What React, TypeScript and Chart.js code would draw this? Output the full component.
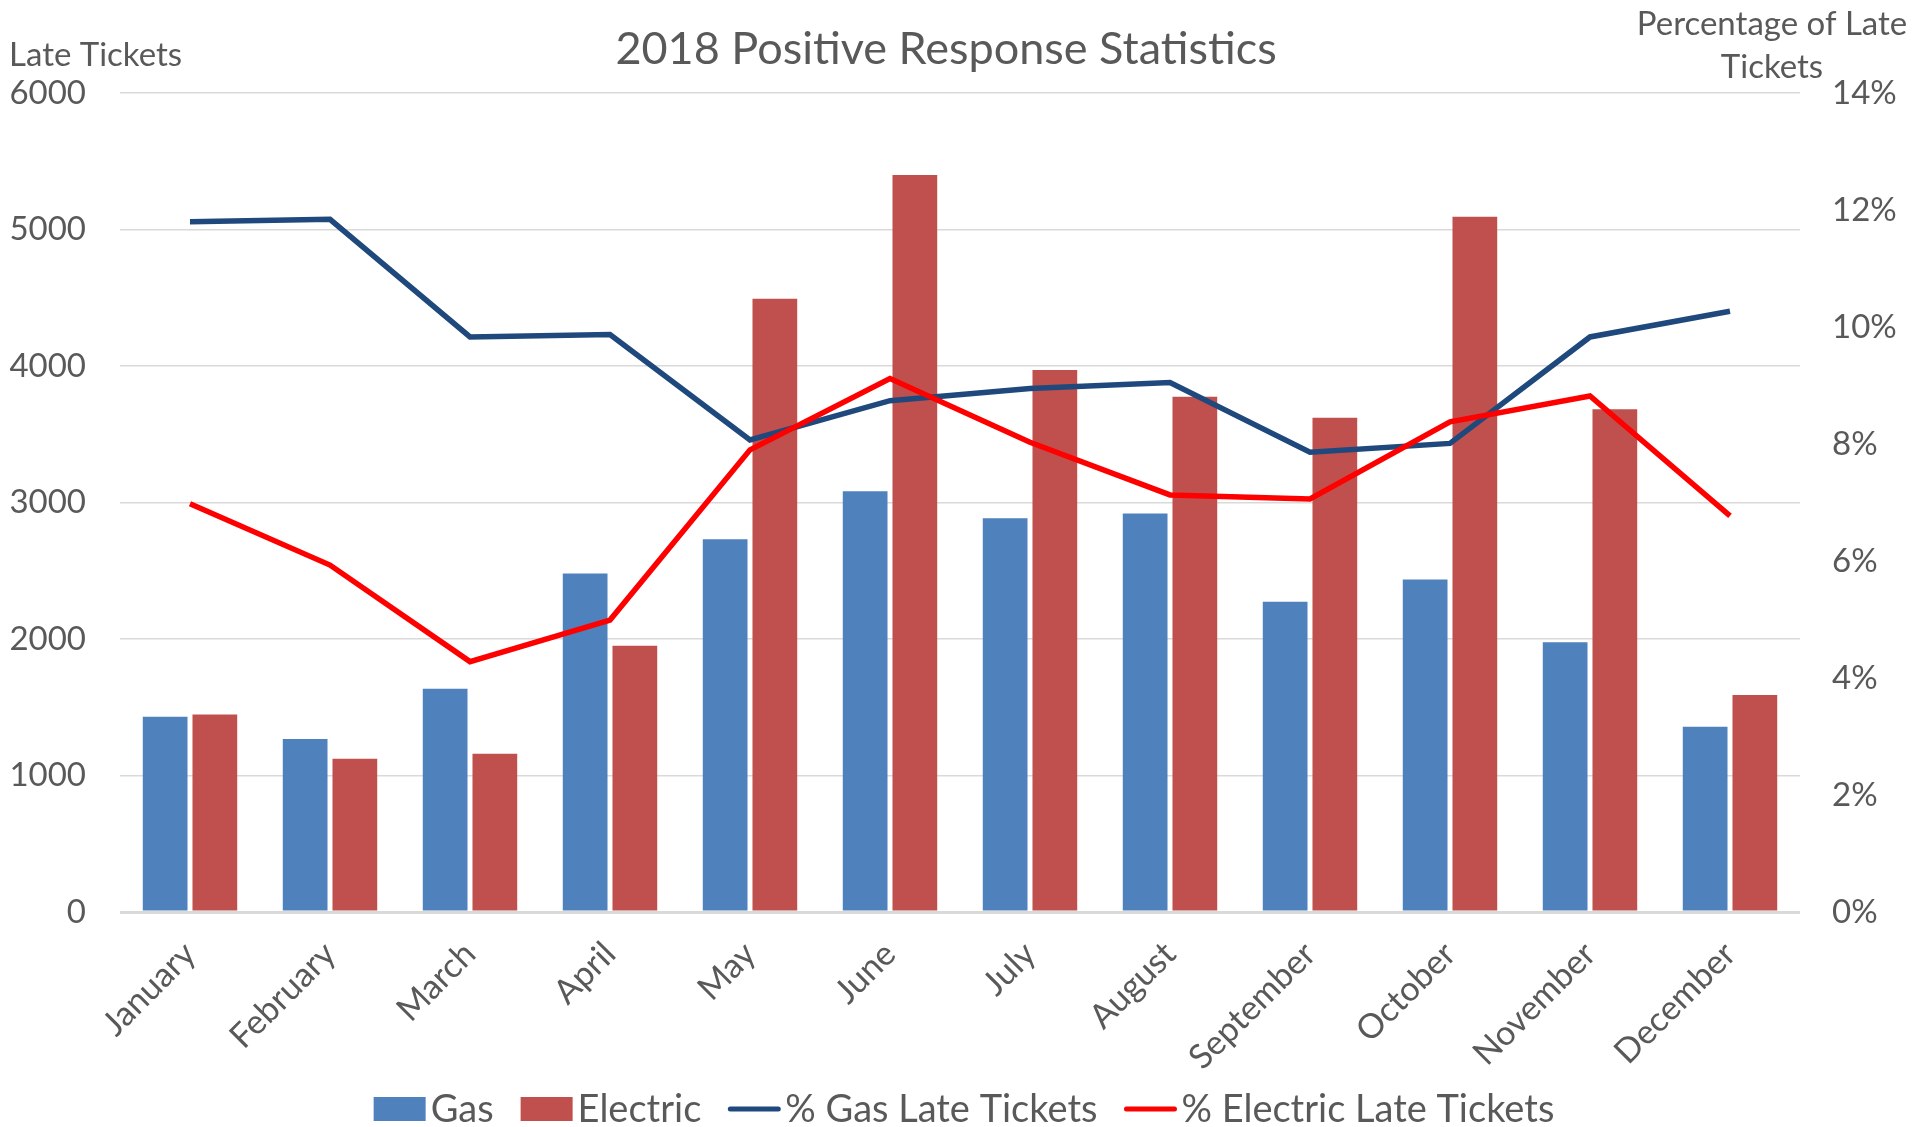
import React, { useEffect, useRef } from "react";
import { Chart, registerables } from "chart.js";

Chart.register(...registerables);

const categories = [
  "January", "February", "March", "April", "May", "June",
  "July", "August", "September", "October", "November", "December",
];
const gasValues = [1430, 1267, 1635, 2480, 2731, 3082, 2884, 2920, 2273, 2435, 1977, 1357];
const electricValues = [1447, 1123, 1159, 1950, 4492, 5400, 3971, 3774, 3621, 5094, 3684, 1590];
const gasPct = [11.8, 11.84, 9.83, 9.87, 8.07, 8.74, 8.95, 9.05, 7.86, 8.01, 9.83, 10.27];
const electricPct = [6.98, 5.93, 4.28, 4.99, 7.9, 9.12, 8.03, 7.13, 7.06, 8.38, 8.82, 6.77];
const leftTicksMax = 6000;
const leftStep = 1000;
const rightTicksMax = 14;
const rightStep = 2;

const TITLE = "2018 Positive Response Statistics";
const LEFT_TITLE = "Late Tickets";
const RIGHT_TITLE = ["Percentage of Late", "Tickets"];

const TEXT = "#595959";
const FONT = "Lato";

const textPlugin = {
  id: "customText",
  afterDraw(chart: any) {
    const ctx = chart.ctx;
    ctx.save();
    ctx.fillStyle = TEXT;
    ctx.textBaseline = "middle";
    // title
    ctx.font = `45px ${FONT}`;
    ctx.textAlign = "center";
    ctx.fillText(TITLE, 946, 49);
    // left axis title
    ctx.font = `33px ${FONT}`;
    ctx.textAlign = "left";
    ctx.fillText(LEFT_TITLE, 9, 55);
    // right axis title
    ctx.textAlign = "center";
    ctx.fillText(RIGHT_TITLE[0], 1772, 24);
    ctx.fillText(RIGHT_TITLE[1], 1772, 67);

    // legend
    const ds = chart.data.datasets;
    const symW = 52;
    const symGap = 5;
    const itemGap = 27;
    ctx.font = `38px ${FONT}`;
    const widths = ds.map((d: any) => ctx.measureText(d.label).width);
    let total = 0;
    widths.forEach((w: number, i: number) => {
      total += symW + symGap + w + (i < widths.length - 1 ? itemGap : 0);
    });
    let x = 964 - total / 2;
    const yc = 1109;
    ds.forEach((d: any, i: number) => {
      if (d.type === "line") {
        ctx.strokeStyle = d.borderColor;
        ctx.lineWidth = 5;
        ctx.lineCap = "round";
        ctx.beginPath();
        ctx.moveTo(x + 2, yc);
        ctx.lineTo(x + symW - 2, yc);
        ctx.stroke();
      } else {
        ctx.fillStyle = d.backgroundColor;
        ctx.fillRect(x, yc - 12, symW, 24);
      }
      ctx.fillStyle = TEXT;
      ctx.textAlign = "left";
      ctx.fillText(d.label, x + symW + symGap, yc + 1);
      x += symW + symGap + widths[i] + itemGap;
    });
    ctx.restore();
  },
};

export default function App() {
  const ref = useRef<HTMLCanvasElement | null>(null);

  useEffect(() => {
    if (!ref.current) return;
    const chart = new Chart(ref.current, {
      type: "bar",
      data: {
        labels: categories,
        datasets: [
          {
            type: "bar",
            label: "Gas",
            data: gasValues,
            backgroundColor: "#4F81BD",
            yAxisID: "y",
            order: 2,
            categoryPercentage: 0.71,
            barPercentage: 0.9,
          } as any,
          {
            type: "bar",
            label: "Electric",
            data: electricValues,
            backgroundColor: "#C0504D",
            yAxisID: "y",
            order: 2,
            categoryPercentage: 0.71,
            barPercentage: 0.9,
          } as any,
          {
            type: "line",
            label: "% Gas Late Tickets",
            data: gasPct,
            borderColor: "#1F497D",
            backgroundColor: "#1F497D",
            borderWidth: 5.5,
            pointRadius: 0,
            tension: 0,
            yAxisID: "y1",
            order: 1,
          } as any,
          {
            type: "line",
            label: "% Electric Late Tickets",
            data: electricPct,
            borderColor: "#FF0000",
            backgroundColor: "#FF0000",
            borderWidth: 5.5,
            pointRadius: 0,
            tension: 0,
            yAxisID: "y1",
            order: 0,
          } as any,
        ],
      },
      options: {
        responsive: false,
        animation: false,
        layout: { padding: { top: 93, left: 0, right: 0, bottom: 0 } },
        plugins: {
          legend: { display: false },
          title: { display: false },
          tooltip: { enabled: false },
        },
        scales: {
          x: {
            grid: { display: false, drawTicks: false },
            border: { display: false },
            ticks: {
              color: TEXT,
              font: { family: FONT, size: 34 },
              minRotation: 45,
              maxRotation: 45,
              autoSkip: false,
              padding: 22,
            },
            afterFit(scale: any) {
              scale.height = 215;
            },
          },
          y: {
            position: "left",
            min: 0,
            max: leftTicksMax,
            ticks: {
              stepSize: leftStep,
              color: TEXT,
              font: { family: FONT, size: 33 },
              padding: 34,
              callback: (v: any) => String(v),
            },
            grid: {
              color: "#D9D9D9",
              lineWidth: (c: any) => (c.tick && c.tick.value === 0 ? 3 : 1.5),
              drawTicks: false,
            },
            border: { display: false },
            afterFit(scale: any) {
              scale.width = 120;
            },
          },
          y1: {
            position: "right",
            min: 0,
            max: rightTicksMax,
            ticks: {
              stepSize: rightStep,
              color: TEXT,
              font: { family: FONT, size: 33 },
              padding: 32,
              callback: (v: any) => `${v}%`,
            },
            grid: { display: false, drawTicks: false },
            border: { display: false },
            afterFit(scale: any) {
              scale.width = 117;
            },
          },
        },
      },
      plugins: [textPlugin],
    });
    return () => chart.destroy();
  }, []);

  return (
    <div style={{ position: "fixed", left: 0, top: 0, width: 1917, height: 1127, background: "#fff" }}>
      <canvas ref={ref} width={1917} height={1127} style={{ width: 1917, height: 1127, display: "block" }} />
    </div>
  );
}
